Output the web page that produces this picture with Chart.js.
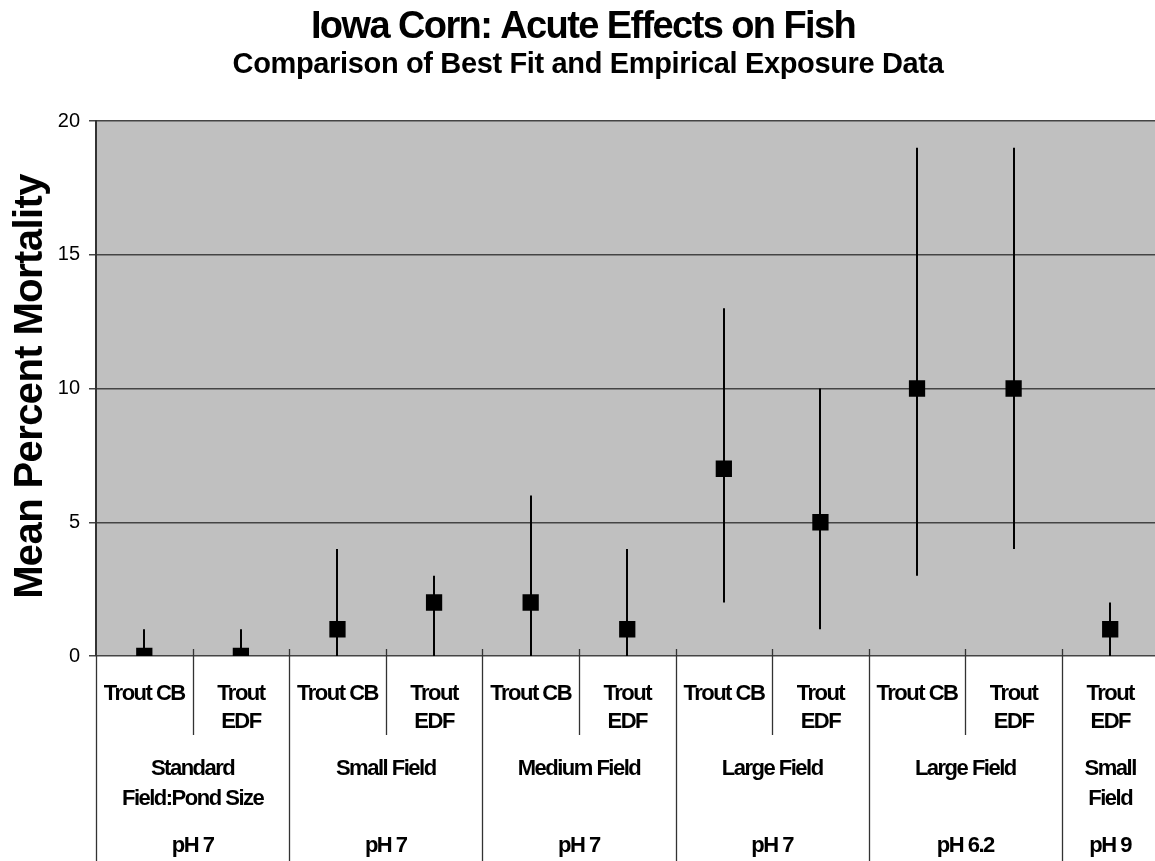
<!DOCTYPE html>
<html>
<head>
<meta charset="utf-8">
<script src="https://cdn.jsdelivr.net/npm/chart.js@4"></script>
<style>
    html, body { margin: 0; padding: 0; background: #fff; overflow: hidden; }
    #wrap { width: 1170px; height: 861px; }
</style>
</head>
<body>
<div id="wrap"><canvas id="fishChart"></canvas></div>
<script>
// categories (bottom row of the axis, one per point)
const speciesLabels = [
    ['Trout CB'], ['Trout', 'EDF'],
    ['Trout CB'], ['Trout', 'EDF'],
    ['Trout CB'], ['Trout', 'EDF'],
    ['Trout CB'], ['Trout', 'EDF'],
    ['Trout CB'], ['Trout', 'EDF'],
    ['Trout', 'EDF']
];
// grouping rows
const groupLabels = [['Standard', 'Field:Pond Size'], ['Small Field'], ['Medium Field'], ['Large Field'], ['Large Field'], ['Small', 'Field']];
const groupSpans = [2, 2, 2, 2, 2, 1];
const phLabels = ['pH 7', 'pH 7', 'pH 7', 'pH 7', 'pH 6.2', 'pH 9'];

// series
const meanMortality = [0, 0, 1, 2, 2, 1, 7, 5, 10, 10, 1];
const lowMortality = [0, 0, 0, 0, 0, 0, 2, 1, 3, 4, 0];
const highMortality = [1, 1, 4, 3, 6, 4, 13, 10, 19, 19, 2];
const yTicks = [0, 5, 10, 15, 20];

const FONT = "'Liberation Sans', Arial, sans-serif";

// grey plot background
const plotBg = {
    id: 'plotBg',
    beforeDraw(chart) {
        const { ctx, chartArea: a } = chart;
        ctx.save();
        ctx.fillStyle = '#c0c0c0';
        ctx.fillRect(a.left, a.top, a.right - a.left, a.bottom - a.top);
        ctx.restore();
    }
};

// vertical error bars, under the markers
const errorBars = {
    id: 'errorBars',
    beforeDatasetsDraw(chart) {
        const ctx = chart.ctx;
        const x = chart.scales.x, y = chart.scales.y;
        ctx.save();
        ctx.strokeStyle = '#000';
        ctx.lineWidth = 2;
        meanMortality.forEach((v, i) => {
            const px = Math.round(x.getPixelForValue(i));
            ctx.beginPath();
            ctx.moveTo(px, y.getPixelForValue(lowMortality[i]));
            ctx.lineTo(px, y.getPixelForValue(highMortality[i]));
            ctx.stroke();
        });
        ctx.restore();
    }
};

// titles + multi level category axis
const textLayer = {
    id: 'textLayer',
    afterDraw(chart) {
        const ctx = chart.ctx;
        const area = chart.chartArea;
        const x = chart.scales.x;
        const half = (x.getPixelForValue(1) - x.getPixelForValue(0)) / 2;

        ctx.save();
        ctx.fillStyle = '#000';
        ctx.textAlign = 'center';
        ctx.textBaseline = 'alphabetic';

        // titles
        ctx.font = 'bold 38px ' + FONT;
        ctx.letterSpacing = '-1.6px';
        ctx.fillText('Iowa Corn: Acute Effects on Fish', 583, 38);
        ctx.font = 'bold 29px ' + FONT;
        ctx.letterSpacing = '-0.35px';
        ctx.fillText('Comparison of Best Fit and Empirical Exposure Data', 588, 73);

        // y axis title
        ctx.save();
        ctx.translate(42, (area.top + area.bottom) / 2 - 2);
        ctx.rotate(-Math.PI / 2);
        ctx.font = 'bold 40px ' + FONT;
        ctx.letterSpacing = '-0.6px';
        ctx.fillText('Mean Percent Mortality', 0, 0);
        ctx.restore();

        // separators
        ctx.strokeStyle = '#333';
        ctx.lineWidth = 1.3;
        const groupEnds = [];
        let acc = 0;
        groupSpans.forEach(s => { acc += s; groupEnds.push(acc); });
        for (let i = 0; i < speciesLabels.length; i++) {
            const bx = Math.round(x.getPixelForValue(i) - half) + 0.5;
            const isGroup = i === 0 || groupEnds.includes(i);
            ctx.beginPath();
            ctx.moveTo(bx, i === 0 ? area.bottom : area.bottom - 7);
            ctx.lineTo(bx, isGroup ? chart.height : 735);
            ctx.stroke();
        }

        // labels
        ctx.font = 'bold 22px ' + FONT;
        ctx.letterSpacing = '-1.5px';
        speciesLabels.forEach((lines, i) => {
            const cx = x.getPixelForValue(i);
            lines.forEach((t, j) => ctx.fillText(t, cx, 700 + j * 28));
        });
        let start = 0;
        groupSpans.forEach((s, g) => {
            const cx = (x.getPixelForValue(start) + x.getPixelForValue(start + s - 1)) / 2;
            groupLabels[g].forEach((t, j) => ctx.fillText(t, cx, 775 + j * 30));
            ctx.fillText(phLabels[g], cx, 852);
            start += s;
        });
        ctx.restore();
    }
};

new Chart(document.getElementById('fishChart'), {
    type: 'line',
    data: {
        labels: speciesLabels.map(l => l.join(' ')),
        datasets: [{
            label: 'Mean Percent Mortality',
            data: meanMortality,
            showLine: false,
            pointStyle: 'rect',
            pointRadius: 11.5,
            pointBackgroundColor: '#000',
            pointBorderColor: '#000',
            pointBorderWidth: 0
        }]
    },
    options: {
        responsive: true,
        maintainAspectRatio: false,
        animation: false,
        layout: { padding: { top: 121, bottom: 205, left: 0, right: 1 } },
        plugins: {
            legend: { display: false },
            tooltip: { enabled: false }
        },
        scales: {
            x: { type: 'category', display: false, offset: true },
            y: {
                min: 0,
                max: 20,
                afterBuildTicks: s => { s.ticks = yTicks.map(v => ({ value: v })); },
                afterFit: s => { s.width = 96; },
                ticks: { color: '#000', font: { family: FONT, size: 20 }, padding: 9 },
                grid: { color: '#444', lineWidth: 1.5, tickLength: 7 },
                border: { display: true, color: '#333', width: 2 }
            }
        }
    },
    plugins: [plotBg, errorBars, textLayer]
});
</script>
</body>
</html>
